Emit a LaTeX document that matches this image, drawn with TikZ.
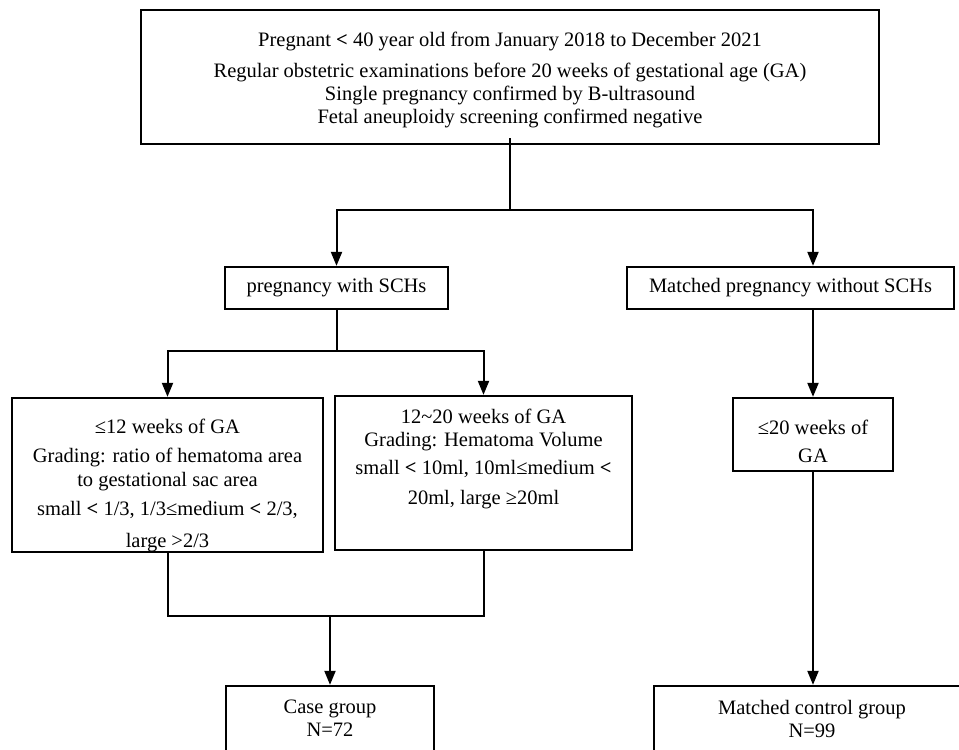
\documentclass[tikz,border=0pt]{standalone}
\usepackage{fontspec}
\setmainfont{Liberation Serif}
\usetikzlibrary{arrows.meta,calc}
\newcommand\ltb{\textbf{<}}
\begin{document}
\begin{tikzpicture}[x=1pt,y=-1pt,
  box/.style={draw,line width=2.3pt,inner sep=0pt},
  txt/.style={align=center,inner sep=0pt,font=\fontsize{20.5}{23}\selectfont},
  conn/.style={line width=2pt},
  arr/.style={conn,-{Triangle[width=11pt,length=14pt]}}]
\path[use as bounding box] (0,0) rectangle (959,750);
\clip (0,0) rectangle (959,750);

% boxes
\node[box,minimum width=738pt,minimum height=134pt] (top) at (510,77) {};
\node[txt] (toptext) at (510,80) {Pregnant \ltb{} 40 year old from January 2018 to December 2021\\[8.5pt]
Regular obstetric examinations before 20 weeks of gestational age (GA)\\
Single pregnancy confirmed by B-ultrasound\\
Fetal aneuploidy screening confirmed negative};

\node[box,txt,minimum width=223pt,minimum height=42pt] (sch) at (336.5,288) {pregnancy with SCHs};
\node[box,txt,minimum width=327pt,minimum height=42pt] (mat) at (790.5,288) {Matched pregnancy without SCHs};

\node[box,minimum width=311pt,minimum height=154pt] (lb) at (167.5,475) {};
\begin{scope}
\clip ([shift={(2pt,2pt)}]lb.south west) rectangle ([shift={(-2pt,-2pt)}]lb.north east);
\node[txt,font=\fontsize{20.5}{24}\selectfont] (lbtext) at (167.5,485) {≤12 weeks of GA\\[5pt]
Grading: ratio of hematoma area\\
to gestational sac area\\[5pt]
small \ltb{} 1/3, 1/3≤medium \ltb{} 2/3,\\[8pt]
large >2/3};
\end{scope}

\node[box,minimum width=297pt,minimum height=154pt] (mb) at (483.5,473) {};
\node[txt] (mbtext) at (483.5,458.5) {12\textasciitilde20 weeks of GA\\
Grading: Hematoma Volume\\[5pt]
small \ltb{} 10ml, 10ml≤medium \ltb\\[7pt]
20ml, large ≥20ml};

\node[box,minimum width=160pt,minimum height=73pt] (le20) at (813,434.5) {};
\node[txt] (le20text) at (813,441) {≤20 weeks of\\[5pt] GA};

\node[box,minimum width=208pt,minimum height=114pt] (case) at (330,743) {};
\node[txt] (casetext) at (330,718.5) {Case group\\ N=72};

\node[box,minimum width=316pt,minimum height=114pt] (ctl) at (812,743) {};
\node[txt] (ctltext) at (812,718.5) {Matched control group\\ N=99};

% connectors
\coordinate (j1) at (510,210);
\draw[conn] ([yshift=7pt]top.south) -- (j1);
\draw[arr] (j1) -| (sch.north);
\draw[arr] (j1) -| (mat.north -| le20.north);

\coordinate (j2) at (336.5,351);
\draw[conn] (sch.south) -- (j2);
\draw[arr] (j2) -| (lb.north);
\draw[arr] (j2) -| (mb.north);

\draw[arr] (mat.south -| le20.north) -- (le20.north);
\draw[arr] (le20.south) -- (le20.south |- ctl.north);

\coordinate (j3) at (330,616);
\draw[conn] (lb.south) |- (mb.south |- j3) -- (mb.south);
\draw[arr] (j3) -- (case.north);
\end{tikzpicture}
\end{document}
